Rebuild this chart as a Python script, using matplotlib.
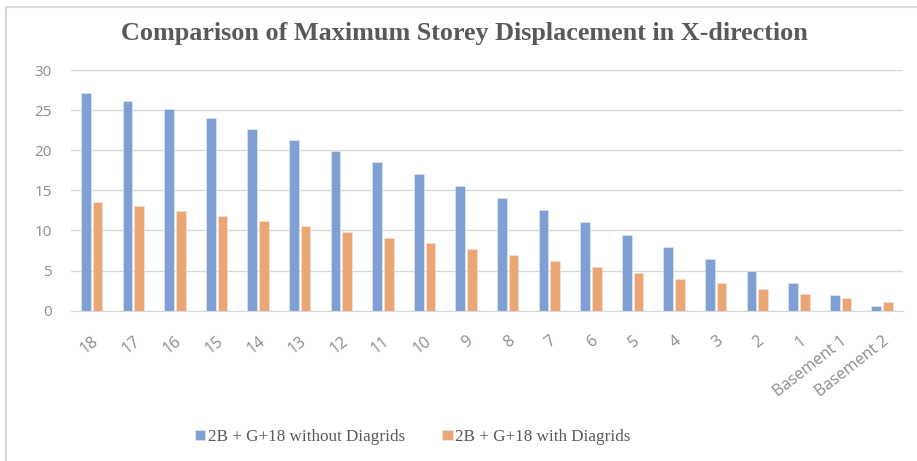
"""Comparison of maximum storey displacement in X-direction (bar chart)."""

import matplotlib.pyplot as plt
import numpy as np
from matplotlib.patches import Rectangle

storeys = ["18", "17", "16", "15", "14", "13", "12", "11", "10", "9",
           "8", "7", "6", "5", "4", "3", "2", "1", "Basement 1", "Basement 2"]
without_diagrids = [27.1, 26.2, 25.1, 24.0, 22.7, 21.3, 19.9, 18.5, 17.0, 15.5,
                    14.0, 12.5, 11.0, 9.45, 7.9, 6.4, 4.9, 3.45, 2.0, 0.65]
with_diagrids = [13.5, 13.0, 12.4, 11.8, 11.2, 10.5, 9.8, 9.1, 8.4, 7.7,
                 6.9, 6.2, 5.45, 4.7, 4.0, 3.4, 2.7, 2.1, 1.6, 1.05]
series_names = ["2B + G+18 without Diagrids", "2B + G+18 with Diagrids"]

BLUE = "#809fd2"
ORANGE = "#eca574"
GRID = "#d9d9d9"
TEXT = "#8c8c8c"


def main():
	fig = plt.figure(figsize=(9.17, 4.61), dpi=100)
	ax = fig.add_axes([0.0774, 0.326, 0.9073, 0.522])

	x = np.arange(len(storeys))
	w = 0.235
	ax.bar(x - 0.14, without_diagrids, w, color=BLUE, label=series_names[0],
		   edgecolor="#e6ecf6", linewidth=0.4)
	ax.bar(x + 0.14, with_diagrids, w, color=ORANGE, label=series_names[1],
		   edgecolor="#f8e4d6", linewidth=0.4)

	ax.set_xlim(-0.5, len(storeys) - 0.5)
	ax.set_ylim(0, 30)
	ax.set_yticks(range(0, 31, 5))
	ax.grid(axis="y", color=GRID, linewidth=1)
	ax.set_axisbelow(True)
	for s in ["top", "right", "left"]:
		ax.spines[s].set_visible(False)
	ax.spines["bottom"].set_color(GRID)
	ax.tick_params(axis="both", length=0, colors=TEXT, labelsize=11)
	ax.tick_params(axis="y", pad=14)

	ax.set_xticks(x)
	ax.set_xticklabels(storeys, rotation=38, ha="right", va="top",
					   rotation_mode="anchor", fontfamily="Open Sans", fontsize=11.5)
	for lab in ax.get_yticklabels():
		lab.set_fontfamily("Open Sans")
	ax.tick_params(axis="x", pad=16)

	fig.text(0.507, 0.927, "Comparison of Maximum Storey Displacement in X-direction",
			 ha="center", va="center", fontsize=18.8, fontweight="bold",
			 family="Liberation Serif", color="#595959")

	leg = fig.legend(loc="center", bbox_to_anchor=(0.45, 0.052), ncol=2, frameon=False,
					 prop={"family": "Liberation Serif", "size": 12.3},
					 handlelength=0.6, handleheight=0.6, handletextpad=0.15,
					 columnspacing=2.2)
	for t in leg.get_texts():
		t.set_color("#595959")

	fig.patches.append(Rectangle((0.007, -0.1), 1.1, 1.085, transform=fig.transFigure,
								 fill=False, edgecolor="#d9d9d9", linewidth=1.5))

	fig.savefig("out.png", dpi=100)


if __name__ == "__main__":
	main()
